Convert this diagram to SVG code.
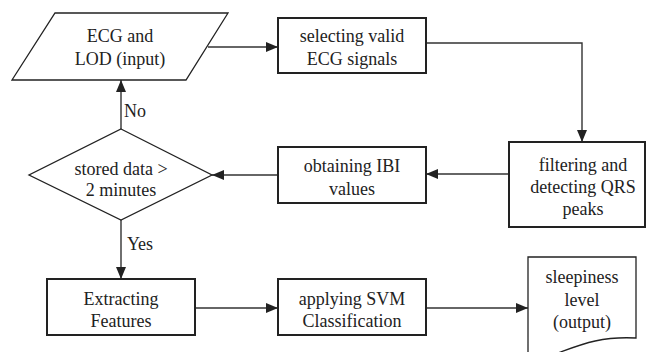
<svg xmlns="http://www.w3.org/2000/svg" width="647" height="352" viewBox="0 0 647 352" font-family="'Liberation Serif', 'DejaVu Serif', serif">
<style>
.n{fill:#fff;stroke:#222;stroke-width:2}
.d{fill:#fff;stroke:#222;stroke-width:1.3}
.c{fill:none;stroke:#333;stroke-width:1.4}
text{font-size:18px;fill:#222;text-anchor:middle}
</style>
<defs>
<marker id="a" markerWidth="12" markerHeight="10" refX="12" refY="5" orient="auto" markerUnits="userSpaceOnUse">
<path d="M0,0 L12,5 L0,10 Z" fill="#222"/>
</marker>
</defs>
<g id="connectors">
<path class="c" d="M208,47 L278,47" marker-end="url(#a)"/>
<path class="c" d="M426,43 L582,43 L582,142" marker-end="url(#a)"/>
<path class="c" d="M509,174 L426,174" marker-end="url(#a)"/>
<path class="c" d="M278,175 L212,175" marker-end="url(#a)"/>
<path class="c" d="M121,129 L121,80" marker-end="url(#a)"/>
<path class="c" d="M121,220 L121,279" marker-end="url(#a)"/>
<path class="c" d="M195,308 L278,308" marker-end="url(#a)"/>
<path class="c" d="M426,308 L528,308" marker-end="url(#a)"/>
<text x="135" y="117">No</text>
<text x="140" y="250">Yes</text>
</g>
<g id="input">
<path class="d" d="M55,13 L228,13 L186,80 L12,80 Z"/>
<text x="120" y="42">ECG and</text>
<text x="120" y="65">LOD (input)</text>
</g>
<g id="select">
<rect class="n" x="278" y="18" width="148" height="55"/>
<text x="352" y="42">selecting valid</text>
<text x="352" y="65">ECG signals</text>
</g>
<g id="filter">
<rect class="n" x="509" y="142" width="136" height="85"/>
<text x="583" y="171">filtering and</text>
<text x="583" y="193">detecting QRS</text>
<text x="583" y="215">peaks</text>
</g>
<g id="ibi">
<rect class="n" x="278" y="147" width="148" height="56"/>
<text x="352" y="172">obtaining IBI</text>
<text x="352" y="195">values</text>
</g>
<g id="decision">
<path class="d" d="M121,129 L212,175 L121,220 L29,175 Z"/>
<text x="121" y="175">stored data &gt;</text>
<text x="121" y="196">2 minutes</text>
</g>
<g id="extract">
<rect class="n" x="47" y="279" width="148" height="56"/>
<text x="121" y="305">Extracting</text>
<text x="121" y="327">Features</text>
</g>
<g id="svm">
<rect class="n" x="278" y="279" width="148" height="56"/>
<text x="352" y="305">applying SVM</text>
<text x="352" y="327">Classification</text>
</g>
<g id="output">
<path class="d" d="M528,257 L636,257 L636,338 C600,336 580,345 555,354 L528,354 Z"/>
<text x="582" y="283">sleepiness</text>
<text x="582" y="306">level</text>
<text x="582" y="328">(output)</text>
</g>
</svg>
